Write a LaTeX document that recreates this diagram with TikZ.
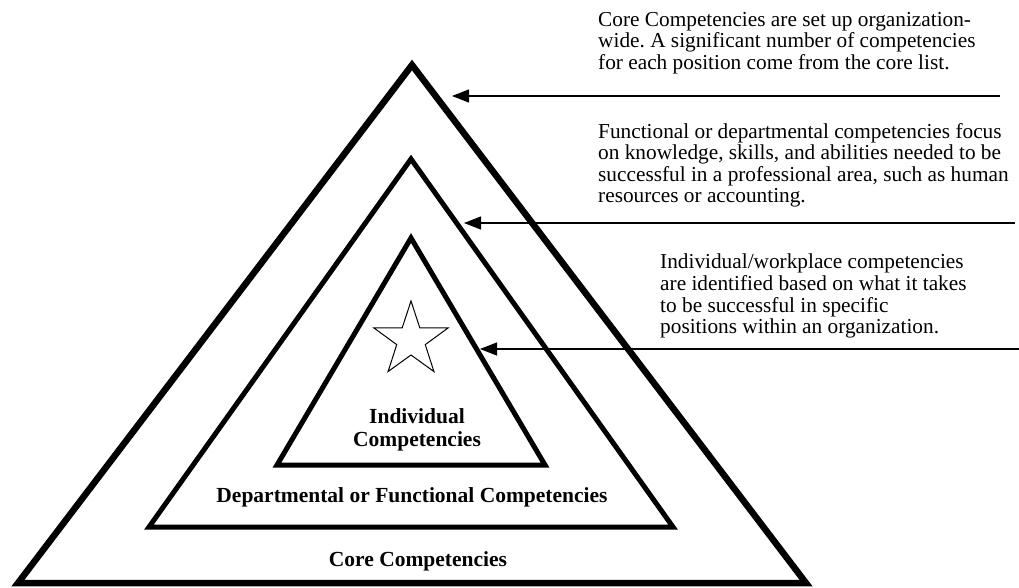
\documentclass[tikz,border=0pt]{standalone}
\usepackage{fontspec}
\setmainfont{Liberation Serif}
\usetikzlibrary{arrows.meta,shapes.geometric}
\frenchspacing
% one level of the pyramid: name, apex x, apex y, base y, half width of base, line width
\newcommand\tierTriangle[6]{
  \coordinate (#1-top) at (#2,#3);
  \coordinate (#1-left) at (#2-#5,#4);
  \coordinate (#1-right) at (#2+#5,#4);
  \draw[tier=#6] (#1-top) -- (#1-right) -- (#1-left) -- cycle;
}

\begin{document}
\begin{tikzpicture}[x=1pt, y=-1pt,
  tier/.style={line width=#1, line join=miter},
  note/.style={align=left, anchor=north west, inner sep=0pt,
    font=\fontsize{21.3}{21.6}\selectfont},
  tag/.style={align=center, inner sep=0pt,
    font=\fontsize{21.5}{23}\selectfont\bfseries},
  pointer/.style={line width=1.2pt, -{Triangle[length=17pt,width=13pt]}}]
\useasboundingbox (0,0) rectangle (1019,588);

\tierTriangle{core}{412}{65}{583}{394}{6.5pt}
\tierTriangle{dept}{411}{159}{527}{262}{5pt}
\tierTriangle{ind}{411}{238}{465}{134}{5pt}

\node[star, star points=5, star point ratio=2.6, draw, line width=1pt,
  minimum size=78pt, inner sep=0pt] (starmark) at (411,340) {};

% labels inside the levels
\node[tag] (indlabel) at (417,430) {Individual\\Competencies};
\node[tag] (deptlabel) at (412,497) {Departmental or Functional Competencies};
\node[tag] (corelabel) at (418,561) {Core Competencies};

% notes on the right
\node[note] (corenote) at (598,12) {Core Competencies are set up organization-\\
  wide. A significant number of competencies\\
  for each position come from the core list.};
\node[note] (deptnote) at (598,123) {Functional or departmental competencies focus\\
  on knowledge, skills, and abilities needed to be\\
  successful in a professional area, such as human\\
  resources or accounting.};
\node[note] (indnote) at (660,254) {Individual/workplace competencies\\
  are identified based on what it takes\\
  to be successful in specific\\
  positions within an organization.};

\coordinate (corefrom) at (1000,96);
\coordinate (coretip) at (452,96);
\coordinate (deptfrom) at (1015,223);
\coordinate (depttip) at (464,223);
\coordinate (indfrom) at (1019,349);
\coordinate (indtip) at (480,349);
\draw[pointer] (corefrom) -- (coretip);
\draw[pointer] (deptfrom) -- (depttip);
\draw[pointer] (indfrom) -- (indtip);
\end{tikzpicture}
\end{document}
